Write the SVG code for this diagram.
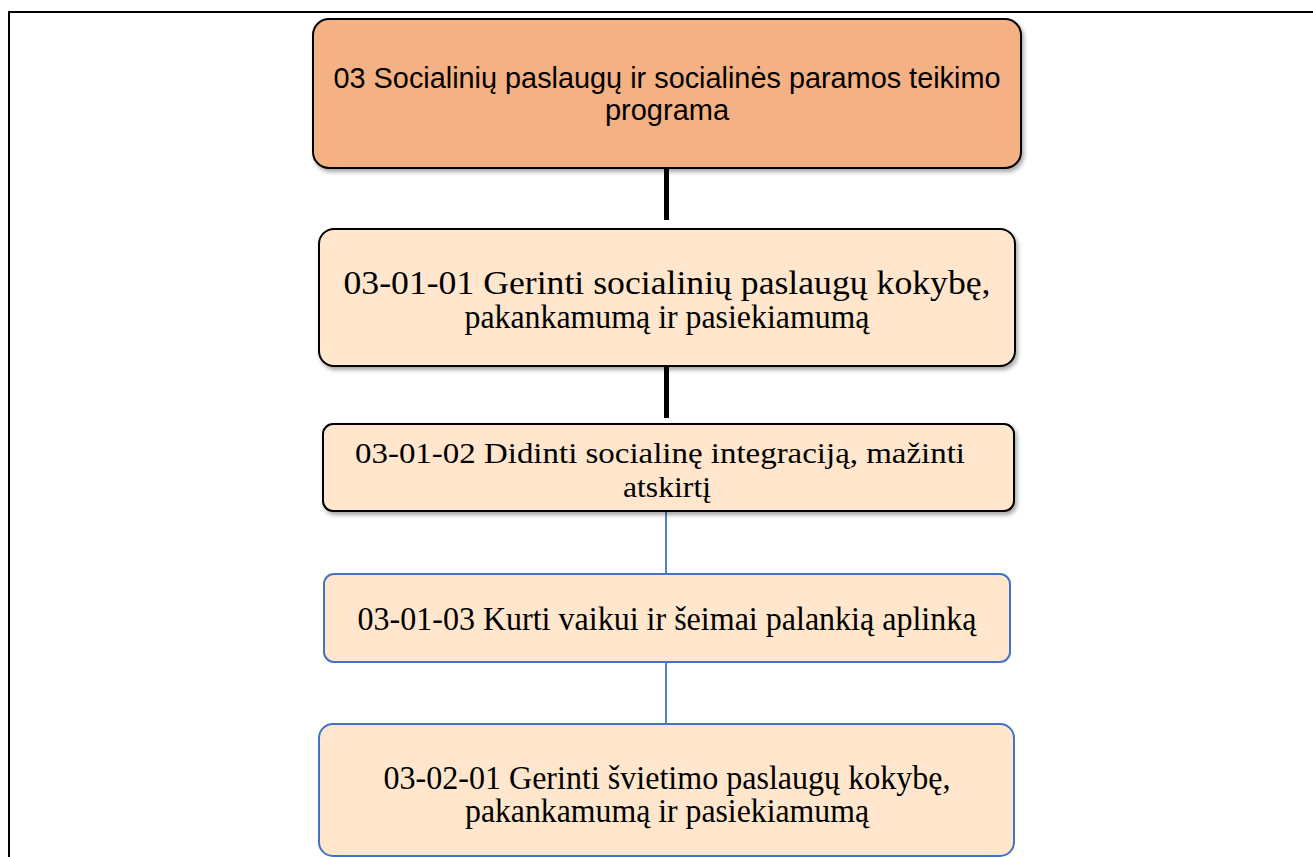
<svg xmlns="http://www.w3.org/2000/svg" width="1313" height="857" viewBox="0 0 1313 857">
<defs>
<filter id="sh" x="-5%" y="-10%" width="115%" height="130%">
<feDropShadow dx="2" dy="3" stdDeviation="2" flood-color="#000" flood-opacity="0.35"/>
</filter>
<style>
.frame{fill:none;stroke:#000;stroke-width:2}
.bk{stroke:#000;stroke-width:2}
.bl{stroke:#4472C4;stroke-width:2}
.top{fill:#F4B183}
.lt{fill:#FFE6CC}
.t1{font-family:"Liberation Sans",Arial,sans-serif;font-size:30px;fill:#000;text-anchor:middle}
.t2{font-family:"Liberation Serif","Times New Roman",serif;font-size:33px;fill:#000;text-anchor:middle}
.t3{font-family:"Liberation Serif","Times New Roman",serif;font-size:29px;fill:#000;text-anchor:middle}
.cthick{stroke:#000;stroke-width:5}
.cthin{stroke:#4472C4;stroke-width:1.8}
</style>
</defs>
<rect width="1313" height="857" fill="#fff"/>
<path class="frame" d="M9 857 V12 H1313"/>
<g id="connectors">
<line class="cthick" x1="666.5" y1="169" x2="666.5" y2="220"/>
<line class="cthick" x1="666.5" y1="367" x2="666.5" y2="418"/>
<line class="cthin" x1="666" y1="512" x2="666" y2="574"/>
<line class="cthin" x1="666" y1="662" x2="666" y2="724"/>
</g>
<g id="n1">
<rect class="top bk" x="313" y="19" width="708" height="149" rx="16" filter="url(#sh)"/>
<text class="t1" x="667" y="88" textLength="667" lengthAdjust="spacingAndGlyphs">03 Socialinių paslaugų ir socialinės paramos teikimo</text>
<text class="t1" x="667" y="120" textLength="124" lengthAdjust="spacingAndGlyphs">programa</text>
</g>
<g id="n2">
<rect class="lt bk" x="319" y="229" width="696" height="137" rx="15" filter="url(#sh)"/>
<text class="t2" x="667" y="294" textLength="647" lengthAdjust="spacingAndGlyphs">03-01-01 Gerinti socialinių paslaugų kokybę,</text>
<text class="t2" x="667" y="328" textLength="405" lengthAdjust="spacingAndGlyphs">pakankamumą ir pasiekiamumą</text>
</g>
<g id="n3">
<rect class="lt bk" x="323" y="424" width="691" height="87" rx="10" filter="url(#sh)"/>
<text class="t3" x="660" y="463" textLength="610" lengthAdjust="spacingAndGlyphs">03-01-02 Didinti socialinę integraciją, mažinti</text>
<text class="t3" x="667" y="497" textLength="88" lengthAdjust="spacingAndGlyphs">atskirtį</text>
</g>
<g id="n4">
<rect class="lt bl" x="324" y="574" width="686" height="88" rx="10"/>
<text class="t2" x="667" y="630" textLength="619" lengthAdjust="spacingAndGlyphs">03-01-03 Kurti vaikui ir šeimai palankią aplinką</text>
</g>
<g id="n5">
<rect class="lt bl" x="319" y="724" width="695" height="132" rx="14"/>
<text class="t2" x="667" y="789" textLength="567" lengthAdjust="spacingAndGlyphs">03-02-01 Gerinti švietimo paslaugų kokybę,</text>
<text class="t2" x="667" y="822" textLength="404" lengthAdjust="spacingAndGlyphs">pakankamumą ir pasiekiamumą</text>
</g>
</svg>
